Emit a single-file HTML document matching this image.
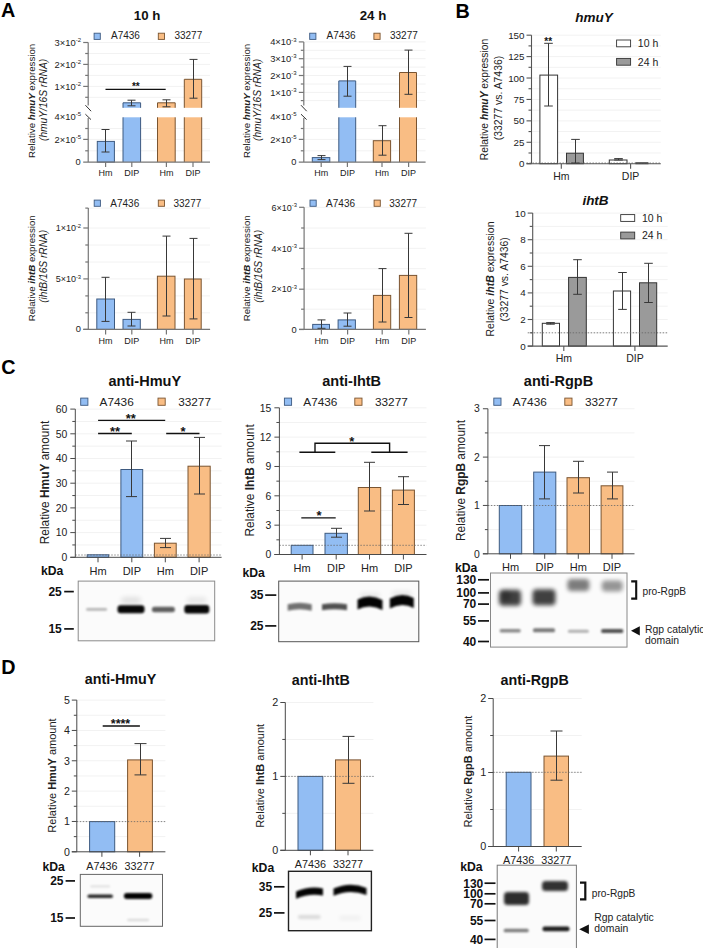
<!DOCTYPE html>
<html><head><meta charset="utf-8"><style>
html,body{margin:0;padding:0;background:#fff;}
svg{display:block;font-family:"Liberation Sans", sans-serif;}
</style></head><body>
<svg width="703" height="948" viewBox="0 0 703 948">
<defs><filter id="b9" x="-50%" y="-150%" width="200%" height="400%"><feGaussianBlur stdDeviation="0.9"/></filter><filter id="b10" x="-50%" y="-150%" width="200%" height="400%"><feGaussianBlur stdDeviation="1.0"/></filter><filter id="b11" x="-50%" y="-150%" width="200%" height="400%"><feGaussianBlur stdDeviation="1.1"/></filter><filter id="b12" x="-50%" y="-150%" width="200%" height="400%"><feGaussianBlur stdDeviation="1.2"/></filter><filter id="b16" x="-50%" y="-150%" width="200%" height="400%"><feGaussianBlur stdDeviation="1.6"/></filter><filter id="b18" x="-50%" y="-150%" width="200%" height="400%"><feGaussianBlur stdDeviation="1.8"/></filter><filter id="b20" x="-50%" y="-150%" width="200%" height="400%"><feGaussianBlur stdDeviation="2.0"/></filter><filter id="b22" x="-50%" y="-150%" width="200%" height="400%"><feGaussianBlur stdDeviation="2.2"/></filter><filter id="b25" x="-50%" y="-150%" width="200%" height="400%"><feGaussianBlur stdDeviation="2.5"/></filter></defs>
<rect width="703" height="948" fill="#fff"/>
<text x="1.00" y="16.70" font-size="19.8" text-anchor="start" font-weight="bold" font-style="normal" fill="#000" >A</text>
<text x="455.50" y="17.80" font-size="19.8" text-anchor="start" font-weight="bold" font-style="normal" fill="#000" >B</text>
<text x="1.20" y="374.00" font-size="19.8" text-anchor="start" font-weight="bold" font-style="normal" fill="#000" >C</text>
<text x="1.20" y="673.80" font-size="19.8" text-anchor="start" font-weight="bold" font-style="normal" fill="#000" >D</text>
<line x1="88.20" y1="42.50" x2="210.00" y2="42.50" stroke="#f2f2f2" stroke-width="1" />
<line x1="88.20" y1="64.40" x2="210.00" y2="64.40" stroke="#f2f2f2" stroke-width="1" />
<line x1="88.20" y1="86.40" x2="210.00" y2="86.40" stroke="#f2f2f2" stroke-width="1" />
<line x1="88.20" y1="53.50" x2="210.00" y2="53.50" stroke="#f2f2f2" stroke-width="1" />
<line x1="88.20" y1="75.40" x2="210.00" y2="75.40" stroke="#f2f2f2" stroke-width="1" />
<line x1="88.20" y1="97.30" x2="210.00" y2="97.30" stroke="#f2f2f2" stroke-width="1" />
<line x1="88.20" y1="128.50" x2="210.00" y2="128.50" stroke="#f2f2f2" stroke-width="1" />
<line x1="88.20" y1="139.40" x2="210.00" y2="139.40" stroke="#f2f2f2" stroke-width="1" />
<line x1="88.20" y1="150.80" x2="210.00" y2="150.80" stroke="#f2f2f2" stroke-width="1" />
<line x1="88.20" y1="42.50" x2="88.20" y2="105.50" stroke="#767676" stroke-width="1.2" />
<line x1="88.20" y1="118.00" x2="88.20" y2="162.10" stroke="#767676" stroke-width="1.2" />
<line x1="83.20" y1="42.50" x2="88.20" y2="42.50" stroke="#767676" stroke-width="1.2" />
<line x1="83.20" y1="64.40" x2="88.20" y2="64.40" stroke="#767676" stroke-width="1.2" />
<line x1="83.20" y1="86.40" x2="88.20" y2="86.40" stroke="#767676" stroke-width="1.2" />
<line x1="85.20" y1="53.50" x2="88.20" y2="53.50" stroke="#767676" stroke-width="1.2" />
<line x1="85.20" y1="75.40" x2="88.20" y2="75.40" stroke="#767676" stroke-width="1.2" />
<line x1="85.20" y1="97.30" x2="88.20" y2="97.30" stroke="#767676" stroke-width="1.2" />
<line x1="83.20" y1="139.40" x2="88.20" y2="139.40" stroke="#767676" stroke-width="1.2" />
<line x1="85.20" y1="128.50" x2="88.20" y2="128.50" stroke="#767676" stroke-width="1.2" />
<line x1="85.20" y1="150.80" x2="88.20" y2="150.80" stroke="#767676" stroke-width="1.2" />
<line x1="85.40" y1="105.20" x2="91.10" y2="111.20" stroke="#333" stroke-width="1.0" />
<line x1="85.40" y1="114.20" x2="91.00" y2="119.60" stroke="#333" stroke-width="1.0" />
<rect x="97.30" y="141.40" width="17.10" height="20.70" fill="#92bdf3" stroke="#3d5a80" stroke-width="1.0" />
<rect x="123.00" y="102.80" width="17.60" height="5.00" fill="#92bdf3" stroke="none" stroke-width="0" />
<rect x="123.00" y="117.30" width="17.60" height="44.80" fill="#92bdf3" stroke="none" stroke-width="0" />
<polyline points="123.00,107.8 123.00,102.80 140.60,102.80 140.60,107.8" stroke="#3d5a80" stroke-width="1" fill="none"/>
<polyline points="123.00,117.3 123.00,162.10" stroke="#3d5a80" stroke-width="1"/>
<polyline points="140.60,117.3 140.60,162.10" stroke="#3d5a80" stroke-width="1"/>
<rect x="157.50" y="102.80" width="17.70" height="5.00" fill="#f9bd84" stroke="none" stroke-width="0" />
<rect x="157.50" y="117.30" width="17.70" height="44.80" fill="#f9bd84" stroke="none" stroke-width="0" />
<polyline points="157.50,107.8 157.50,102.80 175.20,102.80 175.20,107.8" stroke="#7a5430" stroke-width="1" fill="none"/>
<polyline points="157.50,117.3 157.50,162.10" stroke="#7a5430" stroke-width="1"/>
<polyline points="175.20,117.3 175.20,162.10" stroke="#7a5430" stroke-width="1"/>
<rect x="184.30" y="79.30" width="17.40" height="28.50" fill="#f9bd84" stroke="none" stroke-width="0" />
<rect x="184.30" y="117.30" width="17.40" height="44.80" fill="#f9bd84" stroke="none" stroke-width="0" />
<polyline points="184.30,107.8 184.30,79.30 201.70,79.30 201.70,107.8" stroke="#7a5430" stroke-width="1" fill="none"/>
<polyline points="184.30,117.3 184.30,162.10" stroke="#7a5430" stroke-width="1"/>
<polyline points="201.70,117.3 201.70,162.10" stroke="#7a5430" stroke-width="1"/>
<line x1="83.20" y1="162.10" x2="210.00" y2="162.10" stroke="#767676" stroke-width="1.2" />
<line x1="105.60" y1="162.10" x2="105.60" y2="167.10" stroke="#767676" stroke-width="1.2" />
<line x1="131.80" y1="162.10" x2="131.80" y2="167.10" stroke="#767676" stroke-width="1.2" />
<line x1="166.40" y1="162.10" x2="166.40" y2="167.10" stroke="#767676" stroke-width="1.2" />
<line x1="193.00" y1="162.10" x2="193.00" y2="167.10" stroke="#767676" stroke-width="1.2" />
<line x1="105.50" y1="129.50" x2="105.50" y2="152.00" stroke="#383838" stroke-width="1.0" />
<line x1="101.50" y1="129.50" x2="109.50" y2="129.50" stroke="#383838" stroke-width="1.0" />
<line x1="101.50" y1="152.00" x2="109.50" y2="152.00" stroke="#383838" stroke-width="1.0" />
<line x1="131.50" y1="100.20" x2="131.50" y2="105.80" stroke="#383838" stroke-width="1.0" />
<line x1="127.50" y1="100.20" x2="135.50" y2="100.20" stroke="#383838" stroke-width="1.0" />
<line x1="127.50" y1="105.80" x2="135.50" y2="105.80" stroke="#383838" stroke-width="1.0" />
<line x1="166.50" y1="99.80" x2="166.50" y2="106.80" stroke="#383838" stroke-width="1.0" />
<line x1="162.50" y1="99.80" x2="170.50" y2="99.80" stroke="#383838" stroke-width="1.0" />
<line x1="162.50" y1="106.80" x2="170.50" y2="106.80" stroke="#383838" stroke-width="1.0" />
<line x1="193.50" y1="59.40" x2="193.50" y2="98.20" stroke="#383838" stroke-width="1.0" />
<line x1="189.50" y1="59.40" x2="197.50" y2="59.40" stroke="#383838" stroke-width="1.0" />
<line x1="189.50" y1="98.20" x2="197.50" y2="98.20" stroke="#383838" stroke-width="1.0" />
<text x="81.00" y="45.87" font-size="9.4" text-anchor="end" fill="#222">3×10<tspan font-size="6.0" dy="-3.6">-2</tspan></text>
<text x="81.00" y="67.77" font-size="9.4" text-anchor="end" fill="#222">2×10<tspan font-size="6.0" dy="-3.6">-2</tspan></text>
<text x="81.00" y="89.77" font-size="9.4" text-anchor="end" fill="#222">1×10<tspan font-size="6.0" dy="-3.6">-2</tspan></text>
<text x="81.00" y="119.97" font-size="9.4" text-anchor="end" fill="#222">4×10<tspan font-size="6.0" dy="-3.6">-5</tspan></text>
<text x="81.00" y="142.77" font-size="9.4" text-anchor="end" fill="#222">2×10<tspan font-size="6.0" dy="-3.6">-5</tspan></text>
<text x="80.70" y="165.13" font-size="9.3" text-anchor="end" font-weight="normal" font-style="normal" fill="#222" >0</text>
<text x="105.60" y="176.42" font-size="9" text-anchor="middle" font-weight="normal" font-style="normal" fill="#222" >Hm</text>
<text x="131.80" y="176.42" font-size="9" text-anchor="middle" font-weight="normal" font-style="normal" fill="#222" >DIP</text>
<text x="166.40" y="176.42" font-size="9" text-anchor="middle" font-weight="normal" font-style="normal" fill="#222" >Hm</text>
<text x="193.00" y="176.42" font-size="9" text-anchor="middle" font-weight="normal" font-style="normal" fill="#222" >DIP</text>
<rect x="94.10" y="33.20" width="6.20" height="6.20" fill="#92bdf3" stroke="#3d5a80" stroke-width="0.9" />
<text x="111.00" y="39.28" font-size="10" text-anchor="start" font-weight="normal" font-style="normal" fill="#222" >A7436</text>
<rect x="158.30" y="33.20" width="6.20" height="6.20" fill="#f9bd84" stroke="#7a5430" stroke-width="0.9" />
<text x="174.40" y="39.28" font-size="10" text-anchor="start" font-weight="normal" font-style="normal" fill="#222" >33277</text>
<text x="147.10" y="19.76" font-size="13.3" text-anchor="middle" font-weight="bold" font-style="normal" fill="#111" >10 h</text>
<text transform="translate(35.30,100.90) rotate(-90)" font-size="9.7" text-anchor="middle" fill="#222" >Relative <tspan font-weight="bold" font-style="italic">hmuY</tspan> expression</text>
<text transform="translate(46.80,99.90) rotate(-90)" font-size="10.2" text-anchor="middle" fill="#222" font-style="italic">(hmuY/16S rRNA)</text>
<line x1="105.50" y1="89.40" x2="165.70" y2="89.40" stroke="#111" stroke-width="1.4" />
<text x="135.80" y="89.90" font-size="10" text-anchor="middle" font-weight="bold" font-style="normal" fill="#111" >**</text>
<line x1="303.80" y1="41.90" x2="425.60" y2="41.90" stroke="#f2f2f2" stroke-width="1" />
<line x1="303.80" y1="58.70" x2="425.60" y2="58.70" stroke="#f2f2f2" stroke-width="1" />
<line x1="303.80" y1="75.50" x2="425.60" y2="75.50" stroke="#f2f2f2" stroke-width="1" />
<line x1="303.80" y1="92.40" x2="425.60" y2="92.40" stroke="#f2f2f2" stroke-width="1" />
<line x1="303.80" y1="50.30" x2="425.60" y2="50.30" stroke="#f2f2f2" stroke-width="1" />
<line x1="303.80" y1="67.10" x2="425.60" y2="67.10" stroke="#f2f2f2" stroke-width="1" />
<line x1="303.80" y1="84.00" x2="425.60" y2="84.00" stroke="#f2f2f2" stroke-width="1" />
<line x1="303.80" y1="100.60" x2="425.60" y2="100.60" stroke="#f2f2f2" stroke-width="1" />
<line x1="303.80" y1="128.50" x2="425.60" y2="128.50" stroke="#f2f2f2" stroke-width="1" />
<line x1="303.80" y1="139.40" x2="425.60" y2="139.40" stroke="#f2f2f2" stroke-width="1" />
<line x1="303.80" y1="150.80" x2="425.60" y2="150.80" stroke="#f2f2f2" stroke-width="1" />
<line x1="303.80" y1="41.90" x2="303.80" y2="105.50" stroke="#767676" stroke-width="1.2" />
<line x1="303.80" y1="118.00" x2="303.80" y2="162.10" stroke="#767676" stroke-width="1.2" />
<line x1="298.80" y1="41.90" x2="303.80" y2="41.90" stroke="#767676" stroke-width="1.2" />
<line x1="298.80" y1="58.70" x2="303.80" y2="58.70" stroke="#767676" stroke-width="1.2" />
<line x1="298.80" y1="75.50" x2="303.80" y2="75.50" stroke="#767676" stroke-width="1.2" />
<line x1="298.80" y1="92.40" x2="303.80" y2="92.40" stroke="#767676" stroke-width="1.2" />
<line x1="300.80" y1="50.30" x2="303.80" y2="50.30" stroke="#767676" stroke-width="1.2" />
<line x1="300.80" y1="67.10" x2="303.80" y2="67.10" stroke="#767676" stroke-width="1.2" />
<line x1="300.80" y1="84.00" x2="303.80" y2="84.00" stroke="#767676" stroke-width="1.2" />
<line x1="300.80" y1="100.60" x2="303.80" y2="100.60" stroke="#767676" stroke-width="1.2" />
<line x1="298.80" y1="139.40" x2="303.80" y2="139.40" stroke="#767676" stroke-width="1.2" />
<line x1="300.80" y1="128.50" x2="303.80" y2="128.50" stroke="#767676" stroke-width="1.2" />
<line x1="300.80" y1="150.80" x2="303.80" y2="150.80" stroke="#767676" stroke-width="1.2" />
<line x1="301.00" y1="105.20" x2="306.70" y2="111.20" stroke="#333" stroke-width="1.0" />
<line x1="301.00" y1="114.20" x2="306.60" y2="119.60" stroke="#333" stroke-width="1.0" />
<rect x="312.30" y="157.60" width="17.50" height="4.50" fill="#92bdf3" stroke="#3d5a80" stroke-width="1.0" />
<rect x="338.80" y="80.90" width="16.90" height="26.90" fill="#92bdf3" stroke="none" stroke-width="0" />
<rect x="338.80" y="117.30" width="16.90" height="44.80" fill="#92bdf3" stroke="none" stroke-width="0" />
<polyline points="338.80,107.8 338.80,80.90 355.70,80.90 355.70,107.8" stroke="#3d5a80" stroke-width="1" fill="none"/>
<polyline points="338.80,117.3 338.80,162.10" stroke="#3d5a80" stroke-width="1"/>
<polyline points="355.70,117.3 355.70,162.10" stroke="#3d5a80" stroke-width="1"/>
<rect x="373.30" y="140.70" width="17.30" height="21.40" fill="#f9bd84" stroke="#7a5430" stroke-width="1.0" />
<rect x="399.50" y="72.50" width="17.00" height="35.30" fill="#f9bd84" stroke="none" stroke-width="0" />
<rect x="399.50" y="117.30" width="17.00" height="44.80" fill="#f9bd84" stroke="none" stroke-width="0" />
<polyline points="399.50,107.8 399.50,72.50 416.50,72.50 416.50,107.8" stroke="#7a5430" stroke-width="1" fill="none"/>
<polyline points="399.50,117.3 399.50,162.10" stroke="#7a5430" stroke-width="1"/>
<polyline points="416.50,117.3 416.50,162.10" stroke="#7a5430" stroke-width="1"/>
<line x1="298.80" y1="162.10" x2="425.60" y2="162.10" stroke="#767676" stroke-width="1.2" />
<line x1="321.20" y1="162.10" x2="321.20" y2="167.10" stroke="#767676" stroke-width="1.2" />
<line x1="347.40" y1="162.10" x2="347.40" y2="167.10" stroke="#767676" stroke-width="1.2" />
<line x1="382.00" y1="162.10" x2="382.00" y2="167.10" stroke="#767676" stroke-width="1.2" />
<line x1="408.60" y1="162.10" x2="408.60" y2="167.10" stroke="#767676" stroke-width="1.2" />
<line x1="321.50" y1="155.60" x2="321.50" y2="159.60" stroke="#383838" stroke-width="1.0" />
<line x1="317.50" y1="155.60" x2="325.50" y2="155.60" stroke="#383838" stroke-width="1.0" />
<line x1="317.50" y1="159.60" x2="325.50" y2="159.60" stroke="#383838" stroke-width="1.0" />
<line x1="347.50" y1="66.40" x2="347.50" y2="96.20" stroke="#383838" stroke-width="1.0" />
<line x1="343.50" y1="66.40" x2="351.50" y2="66.40" stroke="#383838" stroke-width="1.0" />
<line x1="343.50" y1="96.20" x2="351.50" y2="96.20" stroke="#383838" stroke-width="1.0" />
<line x1="382.50" y1="125.70" x2="382.50" y2="155.20" stroke="#383838" stroke-width="1.0" />
<line x1="378.50" y1="125.70" x2="386.50" y2="125.70" stroke="#383838" stroke-width="1.0" />
<line x1="378.50" y1="155.20" x2="386.50" y2="155.20" stroke="#383838" stroke-width="1.0" />
<line x1="408.50" y1="50.10" x2="408.50" y2="94.30" stroke="#383838" stroke-width="1.0" />
<line x1="404.50" y1="50.10" x2="412.50" y2="50.10" stroke="#383838" stroke-width="1.0" />
<line x1="404.50" y1="94.30" x2="412.50" y2="94.30" stroke="#383838" stroke-width="1.0" />
<text x="296.60" y="45.27" font-size="9.4" text-anchor="end" fill="#222">4×10<tspan font-size="6.0" dy="-3.6">-3</tspan></text>
<text x="296.60" y="62.07" font-size="9.4" text-anchor="end" fill="#222">3×10<tspan font-size="6.0" dy="-3.6">-3</tspan></text>
<text x="296.60" y="78.87" font-size="9.4" text-anchor="end" fill="#222">2×10<tspan font-size="6.0" dy="-3.6">-3</tspan></text>
<text x="296.60" y="95.77" font-size="9.4" text-anchor="end" fill="#222">1×10<tspan font-size="6.0" dy="-3.6">-3</tspan></text>
<text x="296.60" y="119.97" font-size="9.4" text-anchor="end" fill="#222">4×10<tspan font-size="6.0" dy="-3.6">-5</tspan></text>
<text x="296.60" y="142.77" font-size="9.4" text-anchor="end" fill="#222">2×10<tspan font-size="6.0" dy="-3.6">-5</tspan></text>
<text x="296.30" y="165.13" font-size="9.3" text-anchor="end" font-weight="normal" font-style="normal" fill="#222" >0</text>
<text x="321.20" y="176.42" font-size="9" text-anchor="middle" font-weight="normal" font-style="normal" fill="#222" >Hm</text>
<text x="347.40" y="176.42" font-size="9" text-anchor="middle" font-weight="normal" font-style="normal" fill="#222" >DIP</text>
<text x="382.00" y="176.42" font-size="9" text-anchor="middle" font-weight="normal" font-style="normal" fill="#222" >Hm</text>
<text x="408.60" y="176.42" font-size="9" text-anchor="middle" font-weight="normal" font-style="normal" fill="#222" >DIP</text>
<rect x="309.70" y="33.20" width="6.20" height="6.20" fill="#92bdf3" stroke="#3d5a80" stroke-width="0.9" />
<text x="326.60" y="39.28" font-size="10" text-anchor="start" font-weight="normal" font-style="normal" fill="#222" >A7436</text>
<rect x="373.90" y="33.20" width="6.20" height="6.20" fill="#f9bd84" stroke="#7a5430" stroke-width="0.9" />
<text x="390.00" y="39.28" font-size="10" text-anchor="start" font-weight="normal" font-style="normal" fill="#222" >33277</text>
<text x="373.00" y="19.76" font-size="13.3" text-anchor="middle" font-weight="bold" font-style="normal" fill="#111" >24 h</text>
<text transform="translate(249.90,100.90) rotate(-90)" font-size="9.7" text-anchor="middle" fill="#222" >Relative <tspan font-weight="bold" font-style="italic">hmuY</tspan> expression</text>
<text transform="translate(261.40,99.90) rotate(-90)" font-size="10.2" text-anchor="middle" fill="#222" font-style="italic">(hmuY/16S rRNA)</text>
<line x1="88.30" y1="228.00" x2="210.10" y2="228.00" stroke="#f2f2f2" stroke-width="1" />
<line x1="88.30" y1="278.90" x2="210.10" y2="278.90" stroke="#f2f2f2" stroke-width="1" />
<line x1="88.30" y1="208.10" x2="210.10" y2="208.10" stroke="#f2f2f2" stroke-width="1" />
<line x1="88.30" y1="245.00" x2="210.10" y2="245.00" stroke="#f2f2f2" stroke-width="1" />
<line x1="88.30" y1="262.00" x2="210.10" y2="262.00" stroke="#f2f2f2" stroke-width="1" />
<line x1="88.30" y1="295.90" x2="210.10" y2="295.90" stroke="#f2f2f2" stroke-width="1" />
<line x1="88.30" y1="312.80" x2="210.10" y2="312.80" stroke="#f2f2f2" stroke-width="1" />
<rect x="96.80" y="299.00" width="17.70" height="30.40" fill="#92bdf3" stroke="#3d5a80" stroke-width="1.0" />
<rect x="123.00" y="319.40" width="17.30" height="10.00" fill="#92bdf3" stroke="#3d5a80" stroke-width="1.0" />
<rect x="157.40" y="276.20" width="17.60" height="53.20" fill="#f9bd84" stroke="#7a5430" stroke-width="1.0" />
<rect x="184.40" y="279.00" width="16.80" height="50.40" fill="#f9bd84" stroke="#7a5430" stroke-width="1.0" />
<line x1="88.30" y1="208.10" x2="88.30" y2="329.40" stroke="#767676" stroke-width="1.2" />
<line x1="83.30" y1="228.00" x2="88.30" y2="228.00" stroke="#767676" stroke-width="1.2" />
<line x1="83.30" y1="278.90" x2="88.30" y2="278.90" stroke="#767676" stroke-width="1.2" />
<line x1="83.30" y1="329.40" x2="88.30" y2="329.40" stroke="#767676" stroke-width="1.2" />
<line x1="85.30" y1="208.10" x2="88.30" y2="208.10" stroke="#767676" stroke-width="1.2" />
<line x1="85.30" y1="245.00" x2="88.30" y2="245.00" stroke="#767676" stroke-width="1.2" />
<line x1="85.30" y1="262.00" x2="88.30" y2="262.00" stroke="#767676" stroke-width="1.2" />
<line x1="85.30" y1="295.90" x2="88.30" y2="295.90" stroke="#767676" stroke-width="1.2" />
<line x1="85.30" y1="312.80" x2="88.30" y2="312.80" stroke="#767676" stroke-width="1.2" />
<line x1="83.30" y1="329.40" x2="210.10" y2="329.40" stroke="#767676" stroke-width="1.2" />
<line x1="105.60" y1="329.40" x2="105.60" y2="334.40" stroke="#767676" stroke-width="1.2" />
<line x1="131.80" y1="329.40" x2="131.80" y2="334.40" stroke="#767676" stroke-width="1.2" />
<line x1="166.40" y1="329.40" x2="166.40" y2="334.40" stroke="#767676" stroke-width="1.2" />
<line x1="193.00" y1="329.40" x2="193.00" y2="334.40" stroke="#767676" stroke-width="1.2" />
<line x1="105.50" y1="277.30" x2="105.50" y2="321.40" stroke="#383838" stroke-width="1.0" />
<line x1="101.50" y1="277.30" x2="109.50" y2="277.30" stroke="#383838" stroke-width="1.0" />
<line x1="101.50" y1="321.40" x2="109.50" y2="321.40" stroke="#383838" stroke-width="1.0" />
<line x1="131.50" y1="312.30" x2="131.50" y2="326.00" stroke="#383838" stroke-width="1.0" />
<line x1="127.50" y1="312.30" x2="135.50" y2="312.30" stroke="#383838" stroke-width="1.0" />
<line x1="127.50" y1="326.00" x2="135.50" y2="326.00" stroke="#383838" stroke-width="1.0" />
<line x1="166.50" y1="236.10" x2="166.50" y2="316.00" stroke="#383838" stroke-width="1.0" />
<line x1="162.50" y1="236.10" x2="170.50" y2="236.10" stroke="#383838" stroke-width="1.0" />
<line x1="162.50" y1="316.00" x2="170.50" y2="316.00" stroke="#383838" stroke-width="1.0" />
<line x1="193.50" y1="238.40" x2="193.50" y2="318.90" stroke="#383838" stroke-width="1.0" />
<line x1="189.50" y1="238.40" x2="197.50" y2="238.40" stroke="#383838" stroke-width="1.0" />
<line x1="189.50" y1="318.90" x2="197.50" y2="318.90" stroke="#383838" stroke-width="1.0" />
<text x="81.10" y="231.22" font-size="9.0" text-anchor="end" fill="#222">1×10<tspan font-size="5.8" dy="-3.6">-2</tspan></text>
<text x="81.10" y="282.12" font-size="9.0" text-anchor="end" fill="#222">5×10<tspan font-size="5.8" dy="-3.6">-3</tspan></text>
<text x="80.80" y="332.43" font-size="9.3" text-anchor="end" font-weight="normal" font-style="normal" fill="#222" >0</text>
<text x="105.60" y="344.02" font-size="9" text-anchor="middle" font-weight="normal" font-style="normal" fill="#222" >Hm</text>
<text x="131.80" y="344.02" font-size="9" text-anchor="middle" font-weight="normal" font-style="normal" fill="#222" >DIP</text>
<text x="166.40" y="344.02" font-size="9" text-anchor="middle" font-weight="normal" font-style="normal" fill="#222" >Hm</text>
<text x="193.00" y="344.02" font-size="9" text-anchor="middle" font-weight="normal" font-style="normal" fill="#222" >DIP</text>
<rect x="94.20" y="200.10" width="6.20" height="6.20" fill="#92bdf3" stroke="#3d5a80" stroke-width="0.9" />
<text x="110.30" y="206.78" font-size="10" text-anchor="start" font-weight="normal" font-style="normal" fill="#222" >A7436</text>
<rect x="158.30" y="200.10" width="6.20" height="6.20" fill="#f9bd84" stroke="#7a5430" stroke-width="0.9" />
<text x="173.50" y="206.78" font-size="10" text-anchor="start" font-weight="normal" font-style="normal" fill="#222" >33277</text>
<text transform="translate(35.30,268.30) rotate(-90)" font-size="9.7" text-anchor="middle" fill="#222" >Relative <tspan font-weight="bold" font-style="italic">ihtB</tspan> expression</text>
<text transform="translate(46.80,266.30) rotate(-90)" font-size="10.2" text-anchor="middle" fill="#222" font-style="italic">(ihtB/16S rRNA)</text>
<line x1="304.10" y1="207.30" x2="425.90" y2="207.30" stroke="#f2f2f2" stroke-width="1" />
<line x1="304.10" y1="248.30" x2="425.90" y2="248.30" stroke="#f2f2f2" stroke-width="1" />
<line x1="304.10" y1="289.20" x2="425.90" y2="289.20" stroke="#f2f2f2" stroke-width="1" />
<line x1="304.10" y1="228.00" x2="425.90" y2="228.00" stroke="#f2f2f2" stroke-width="1" />
<line x1="304.10" y1="268.70" x2="425.90" y2="268.70" stroke="#f2f2f2" stroke-width="1" />
<line x1="304.10" y1="309.20" x2="425.90" y2="309.20" stroke="#f2f2f2" stroke-width="1" />
<rect x="312.70" y="324.40" width="16.80" height="5.00" fill="#92bdf3" stroke="#3d5a80" stroke-width="1.0" />
<rect x="338.10" y="319.90" width="17.30" height="9.50" fill="#92bdf3" stroke="#3d5a80" stroke-width="1.0" />
<rect x="373.40" y="295.40" width="17.30" height="34.00" fill="#f9bd84" stroke="#7a5430" stroke-width="1.0" />
<rect x="399.40" y="275.40" width="17.30" height="54.00" fill="#f9bd84" stroke="#7a5430" stroke-width="1.0" />
<line x1="304.10" y1="207.30" x2="304.10" y2="329.40" stroke="#767676" stroke-width="1.2" />
<line x1="299.10" y1="207.30" x2="304.10" y2="207.30" stroke="#767676" stroke-width="1.2" />
<line x1="299.10" y1="248.30" x2="304.10" y2="248.30" stroke="#767676" stroke-width="1.2" />
<line x1="299.10" y1="289.20" x2="304.10" y2="289.20" stroke="#767676" stroke-width="1.2" />
<line x1="299.10" y1="329.50" x2="304.10" y2="329.50" stroke="#767676" stroke-width="1.2" />
<line x1="301.10" y1="228.00" x2="304.10" y2="228.00" stroke="#767676" stroke-width="1.2" />
<line x1="301.10" y1="268.70" x2="304.10" y2="268.70" stroke="#767676" stroke-width="1.2" />
<line x1="301.10" y1="309.20" x2="304.10" y2="309.20" stroke="#767676" stroke-width="1.2" />
<line x1="299.10" y1="329.40" x2="425.90" y2="329.40" stroke="#767676" stroke-width="1.2" />
<line x1="321.40" y1="329.40" x2="321.40" y2="334.40" stroke="#767676" stroke-width="1.2" />
<line x1="347.60" y1="329.40" x2="347.60" y2="334.40" stroke="#767676" stroke-width="1.2" />
<line x1="382.20" y1="329.40" x2="382.20" y2="334.40" stroke="#767676" stroke-width="1.2" />
<line x1="408.80" y1="329.40" x2="408.80" y2="334.40" stroke="#767676" stroke-width="1.2" />
<line x1="321.50" y1="319.90" x2="321.50" y2="328.30" stroke="#383838" stroke-width="1.0" />
<line x1="317.50" y1="319.90" x2="325.50" y2="319.90" stroke="#383838" stroke-width="1.0" />
<line x1="317.50" y1="328.30" x2="325.50" y2="328.30" stroke="#383838" stroke-width="1.0" />
<line x1="347.50" y1="313.00" x2="347.50" y2="326.20" stroke="#383838" stroke-width="1.0" />
<line x1="343.50" y1="313.00" x2="351.50" y2="313.00" stroke="#383838" stroke-width="1.0" />
<line x1="343.50" y1="326.20" x2="351.50" y2="326.20" stroke="#383838" stroke-width="1.0" />
<line x1="382.50" y1="268.60" x2="382.50" y2="322.00" stroke="#383838" stroke-width="1.0" />
<line x1="378.50" y1="268.60" x2="386.50" y2="268.60" stroke="#383838" stroke-width="1.0" />
<line x1="378.50" y1="322.00" x2="386.50" y2="322.00" stroke="#383838" stroke-width="1.0" />
<line x1="408.50" y1="233.30" x2="408.50" y2="317.50" stroke="#383838" stroke-width="1.0" />
<line x1="404.50" y1="233.30" x2="412.50" y2="233.30" stroke="#383838" stroke-width="1.0" />
<line x1="404.50" y1="317.50" x2="412.50" y2="317.50" stroke="#383838" stroke-width="1.0" />
<text x="296.90" y="210.52" font-size="9.0" text-anchor="end" fill="#222">6×10<tspan font-size="5.8" dy="-3.6">-3</tspan></text>
<text x="296.90" y="251.52" font-size="9.0" text-anchor="end" fill="#222">4×10<tspan font-size="5.8" dy="-3.6">-3</tspan></text>
<text x="296.90" y="292.42" font-size="9.0" text-anchor="end" fill="#222">2×10<tspan font-size="5.8" dy="-3.6">-3</tspan></text>
<text x="296.60" y="332.53" font-size="9.3" text-anchor="end" font-weight="normal" font-style="normal" fill="#222" >0</text>
<text x="321.40" y="344.02" font-size="9" text-anchor="middle" font-weight="normal" font-style="normal" fill="#222" >Hm</text>
<text x="347.60" y="344.02" font-size="9" text-anchor="middle" font-weight="normal" font-style="normal" fill="#222" >DIP</text>
<text x="382.20" y="344.02" font-size="9" text-anchor="middle" font-weight="normal" font-style="normal" fill="#222" >Hm</text>
<text x="408.80" y="344.02" font-size="9" text-anchor="middle" font-weight="normal" font-style="normal" fill="#222" >DIP</text>
<rect x="310.00" y="200.10" width="6.20" height="6.20" fill="#92bdf3" stroke="#3d5a80" stroke-width="0.9" />
<text x="326.10" y="206.78" font-size="10" text-anchor="start" font-weight="normal" font-style="normal" fill="#222" >A7436</text>
<rect x="374.10" y="200.10" width="6.20" height="6.20" fill="#f9bd84" stroke="#7a5430" stroke-width="0.9" />
<text x="389.30" y="206.78" font-size="10" text-anchor="start" font-weight="normal" font-style="normal" fill="#222" >33277</text>
<text transform="translate(250.10,268.30) rotate(-90)" font-size="9.7" text-anchor="middle" fill="#222" >Relative <tspan font-weight="bold" font-style="italic">ihtB</tspan> expression</text>
<text transform="translate(261.60,266.30) rotate(-90)" font-size="10.2" text-anchor="middle" fill="#222" font-style="italic">(ihtB/16S rRNA)</text>
<line x1="531.50" y1="142.28" x2="660.80" y2="142.28" stroke="#f2f2f2" stroke-width="1" />
<line x1="531.50" y1="120.86" x2="660.80" y2="120.86" stroke="#f2f2f2" stroke-width="1" />
<line x1="531.50" y1="99.44" x2="660.80" y2="99.44" stroke="#f2f2f2" stroke-width="1" />
<line x1="531.50" y1="78.02" x2="660.80" y2="78.02" stroke="#f2f2f2" stroke-width="1" />
<line x1="531.50" y1="56.60" x2="660.80" y2="56.60" stroke="#f2f2f2" stroke-width="1" />
<line x1="531.50" y1="35.18" x2="660.80" y2="35.18" stroke="#f2f2f2" stroke-width="1" />
<line x1="531.50" y1="152.99" x2="660.80" y2="152.99" stroke="#f2f2f2" stroke-width="1" />
<line x1="531.50" y1="131.57" x2="660.80" y2="131.57" stroke="#f2f2f2" stroke-width="1" />
<line x1="531.50" y1="110.15" x2="660.80" y2="110.15" stroke="#f2f2f2" stroke-width="1" />
<line x1="531.50" y1="88.73" x2="660.80" y2="88.73" stroke="#f2f2f2" stroke-width="1" />
<line x1="531.50" y1="67.31" x2="660.80" y2="67.31" stroke="#f2f2f2" stroke-width="1" />
<line x1="531.50" y1="45.89" x2="660.80" y2="45.89" stroke="#f2f2f2" stroke-width="1" />
<rect x="539.90" y="75.10" width="17.70" height="88.60" fill="#ffffff" stroke="#333333" stroke-width="1.0" />
<rect x="566.50" y="153.20" width="16.90" height="10.50" fill="#9a9a9a" stroke="#333333" stroke-width="1.0" />
<rect x="609.30" y="160.00" width="17.70" height="3.70" fill="#ffffff" stroke="#333333" stroke-width="1.0" />
<rect x="635.90" y="162.80" width="12.10" height="0.90" fill="#9a9a9a" stroke="#333333" stroke-width="1.0" />
<line x1="526.50" y1="163.00" x2="660.80" y2="163.00" stroke="#666" stroke-width="0.8" stroke-dasharray="1.4 1.6"/>
<line x1="531.50" y1="35.18" x2="531.50" y2="163.70" stroke="#555555" stroke-width="1.1" />
<line x1="526.50" y1="163.70" x2="531.50" y2="163.70" stroke="#555555" stroke-width="1.1" />
<line x1="526.50" y1="142.28" x2="531.50" y2="142.28" stroke="#555555" stroke-width="1.1" />
<line x1="526.50" y1="120.86" x2="531.50" y2="120.86" stroke="#555555" stroke-width="1.1" />
<line x1="526.50" y1="99.44" x2="531.50" y2="99.44" stroke="#555555" stroke-width="1.1" />
<line x1="526.50" y1="78.02" x2="531.50" y2="78.02" stroke="#555555" stroke-width="1.1" />
<line x1="526.50" y1="56.60" x2="531.50" y2="56.60" stroke="#555555" stroke-width="1.1" />
<line x1="526.50" y1="35.18" x2="531.50" y2="35.18" stroke="#555555" stroke-width="1.1" />
<line x1="528.50" y1="152.99" x2="531.50" y2="152.99" stroke="#555555" stroke-width="1.1" />
<line x1="528.50" y1="131.57" x2="531.50" y2="131.57" stroke="#555555" stroke-width="1.1" />
<line x1="528.50" y1="110.15" x2="531.50" y2="110.15" stroke="#555555" stroke-width="1.1" />
<line x1="528.50" y1="88.73" x2="531.50" y2="88.73" stroke="#555555" stroke-width="1.1" />
<line x1="528.50" y1="67.31" x2="531.50" y2="67.31" stroke="#555555" stroke-width="1.1" />
<line x1="528.50" y1="45.89" x2="531.50" y2="45.89" stroke="#555555" stroke-width="1.1" />
<line x1="526.50" y1="163.70" x2="660.80" y2="163.70" stroke="#555555" stroke-width="1.1" />
<line x1="561.30" y1="163.70" x2="561.30" y2="168.70" stroke="#555555" stroke-width="1.1" />
<line x1="630.60" y1="163.70" x2="630.60" y2="168.70" stroke="#555555" stroke-width="1.1" />
<line x1="548.50" y1="43.30" x2="548.50" y2="106.00" stroke="#383838" stroke-width="1.0" />
<line x1="544.20" y1="43.30" x2="552.80" y2="43.30" stroke="#383838" stroke-width="1.0" />
<line x1="544.20" y1="106.00" x2="552.80" y2="106.00" stroke="#383838" stroke-width="1.0" />
<line x1="575.50" y1="139.40" x2="575.50" y2="163.00" stroke="#383838" stroke-width="1.0" />
<line x1="571.20" y1="139.40" x2="579.80" y2="139.40" stroke="#383838" stroke-width="1.0" />
<line x1="571.20" y1="163.00" x2="579.80" y2="163.00" stroke="#383838" stroke-width="1.0" />
<line x1="618.50" y1="158.60" x2="618.50" y2="160.00" stroke="#383838" stroke-width="1.0" />
<line x1="614.20" y1="158.60" x2="622.80" y2="158.60" stroke="#383838" stroke-width="1.0" />
<line x1="614.20" y1="160.00" x2="622.80" y2="160.00" stroke="#383838" stroke-width="1.0" />
<text x="524.50" y="167.21" font-size="9.8" text-anchor="end" font-weight="normal" font-style="normal" fill="#222" >0</text>
<text x="524.50" y="145.79" font-size="9.8" text-anchor="end" font-weight="normal" font-style="normal" fill="#222" >25</text>
<text x="524.50" y="124.37" font-size="9.8" text-anchor="end" font-weight="normal" font-style="normal" fill="#222" >50</text>
<text x="524.50" y="102.95" font-size="9.8" text-anchor="end" font-weight="normal" font-style="normal" fill="#222" >75</text>
<text x="524.50" y="81.53" font-size="9.8" text-anchor="end" font-weight="normal" font-style="normal" fill="#222" >100</text>
<text x="524.50" y="60.11" font-size="9.8" text-anchor="end" font-weight="normal" font-style="normal" fill="#222" >125</text>
<text x="524.50" y="38.69" font-size="9.8" text-anchor="end" font-weight="normal" font-style="normal" fill="#222" >150</text>
<text x="561.30" y="179.56" font-size="10.5" text-anchor="middle" font-weight="normal" font-style="normal" fill="#222" >Hm</text>
<text x="630.60" y="179.56" font-size="10.5" text-anchor="middle" font-weight="normal" font-style="normal" fill="#222" >DIP</text>
<text x="548.20" y="45.10" font-size="10" text-anchor="middle" font-weight="bold" font-style="normal" fill="#111" >**</text>
<rect x="616.60" y="40.00" width="14.00" height="6.80" fill="#ffffff" stroke="#333333" stroke-width="0.9" />
<text x="637.80" y="47.16" font-size="10.5" text-anchor="start" font-weight="normal" font-style="normal" fill="#222" >10 h</text>
<rect x="616.60" y="58.40" width="14.00" height="6.80" fill="#9a9a9a" stroke="#333333" stroke-width="0.9" />
<text x="637.80" y="65.56" font-size="10.5" text-anchor="start" font-weight="normal" font-style="normal" fill="#222" >24 h</text>
<text x="594.00" y="21.63" font-size="13.5" text-anchor="middle" font-weight="bold" font-style="italic" fill="#111" >hmuY</text>
<text transform="translate(488.30,99.50) rotate(-90)" font-size="10.3" text-anchor="middle" fill="#222" >Relative <tspan font-weight="bold" font-style="italic">hmuY</tspan> expression</text>
<text transform="translate(502.30,98.00) rotate(-90)" font-size="10.4" text-anchor="middle" fill="#222" >(33277 vs. A7436)</text>
<line x1="532.70" y1="319.50" x2="667.70" y2="319.50" stroke="#f2f2f2" stroke-width="1" />
<line x1="532.70" y1="292.90" x2="667.70" y2="292.90" stroke="#f2f2f2" stroke-width="1" />
<line x1="532.70" y1="266.30" x2="667.70" y2="266.30" stroke="#f2f2f2" stroke-width="1" />
<line x1="532.70" y1="239.70" x2="667.70" y2="239.70" stroke="#f2f2f2" stroke-width="1" />
<line x1="532.70" y1="213.10" x2="667.70" y2="213.10" stroke="#f2f2f2" stroke-width="1" />
<line x1="532.70" y1="332.80" x2="667.70" y2="332.80" stroke="#f2f2f2" stroke-width="1" />
<line x1="532.70" y1="306.20" x2="667.70" y2="306.20" stroke="#f2f2f2" stroke-width="1" />
<line x1="532.70" y1="279.60" x2="667.70" y2="279.60" stroke="#f2f2f2" stroke-width="1" />
<line x1="532.70" y1="253.00" x2="667.70" y2="253.00" stroke="#f2f2f2" stroke-width="1" />
<line x1="532.70" y1="226.40" x2="667.70" y2="226.40" stroke="#f2f2f2" stroke-width="1" />
<rect x="542.30" y="323.30" width="17.20" height="22.80" fill="#ffffff" stroke="#333333" stroke-width="1.0" />
<rect x="568.60" y="277.40" width="17.70" height="68.70" fill="#9a9a9a" stroke="#333333" stroke-width="1.0" />
<rect x="613.40" y="291.00" width="17.20" height="55.10" fill="#ffffff" stroke="#333333" stroke-width="1.0" />
<rect x="639.50" y="282.80" width="17.20" height="63.30" fill="#9a9a9a" stroke="#333333" stroke-width="1.0" />
<line x1="527.70" y1="332.80" x2="667.70" y2="332.80" stroke="#666" stroke-width="0.8" stroke-dasharray="1.4 1.6"/>
<line x1="532.70" y1="213.10" x2="532.70" y2="346.10" stroke="#555555" stroke-width="1.1" />
<line x1="527.70" y1="346.10" x2="532.70" y2="346.10" stroke="#555555" stroke-width="1.1" />
<line x1="527.70" y1="319.50" x2="532.70" y2="319.50" stroke="#555555" stroke-width="1.1" />
<line x1="527.70" y1="292.90" x2="532.70" y2="292.90" stroke="#555555" stroke-width="1.1" />
<line x1="527.70" y1="266.30" x2="532.70" y2="266.30" stroke="#555555" stroke-width="1.1" />
<line x1="527.70" y1="239.70" x2="532.70" y2="239.70" stroke="#555555" stroke-width="1.1" />
<line x1="527.70" y1="213.10" x2="532.70" y2="213.10" stroke="#555555" stroke-width="1.1" />
<line x1="529.70" y1="332.80" x2="532.70" y2="332.80" stroke="#555555" stroke-width="1.1" />
<line x1="529.70" y1="306.20" x2="532.70" y2="306.20" stroke="#555555" stroke-width="1.1" />
<line x1="529.70" y1="279.60" x2="532.70" y2="279.60" stroke="#555555" stroke-width="1.1" />
<line x1="529.70" y1="253.00" x2="532.70" y2="253.00" stroke="#555555" stroke-width="1.1" />
<line x1="529.70" y1="226.40" x2="532.70" y2="226.40" stroke="#555555" stroke-width="1.1" />
<line x1="527.70" y1="346.10" x2="667.70" y2="346.10" stroke="#555555" stroke-width="1.1" />
<line x1="563.80" y1="346.10" x2="563.80" y2="351.10" stroke="#555555" stroke-width="1.1" />
<line x1="634.90" y1="346.10" x2="634.90" y2="351.10" stroke="#555555" stroke-width="1.1" />
<line x1="550.50" y1="322.60" x2="550.50" y2="324.20" stroke="#383838" stroke-width="1.0" />
<line x1="546.20" y1="322.60" x2="554.80" y2="322.60" stroke="#383838" stroke-width="1.0" />
<line x1="546.20" y1="324.20" x2="554.80" y2="324.20" stroke="#383838" stroke-width="1.0" />
<line x1="577.50" y1="259.70" x2="577.50" y2="294.30" stroke="#383838" stroke-width="1.0" />
<line x1="573.20" y1="259.70" x2="581.80" y2="259.70" stroke="#383838" stroke-width="1.0" />
<line x1="573.20" y1="294.30" x2="581.80" y2="294.30" stroke="#383838" stroke-width="1.0" />
<line x1="622.50" y1="272.50" x2="622.50" y2="309.40" stroke="#383838" stroke-width="1.0" />
<line x1="618.20" y1="272.50" x2="626.80" y2="272.50" stroke="#383838" stroke-width="1.0" />
<line x1="618.20" y1="309.40" x2="626.80" y2="309.40" stroke="#383838" stroke-width="1.0" />
<line x1="648.50" y1="263.30" x2="648.50" y2="302.50" stroke="#383838" stroke-width="1.0" />
<line x1="644.20" y1="263.30" x2="652.80" y2="263.30" stroke="#383838" stroke-width="1.0" />
<line x1="644.20" y1="302.50" x2="652.80" y2="302.50" stroke="#383838" stroke-width="1.0" />
<text x="525.70" y="349.61" font-size="9.8" text-anchor="end" font-weight="normal" font-style="normal" fill="#222" >0</text>
<text x="525.70" y="323.01" font-size="9.8" text-anchor="end" font-weight="normal" font-style="normal" fill="#222" >2</text>
<text x="525.70" y="296.41" font-size="9.8" text-anchor="end" font-weight="normal" font-style="normal" fill="#222" >4</text>
<text x="525.70" y="269.81" font-size="9.8" text-anchor="end" font-weight="normal" font-style="normal" fill="#222" >6</text>
<text x="525.70" y="243.21" font-size="9.8" text-anchor="end" font-weight="normal" font-style="normal" fill="#222" >8</text>
<text x="525.70" y="216.61" font-size="9.8" text-anchor="end" font-weight="normal" font-style="normal" fill="#222" >10</text>
<text x="563.80" y="361.56" font-size="10.5" text-anchor="middle" font-weight="normal" font-style="normal" fill="#222" >Hm</text>
<text x="634.90" y="361.56" font-size="10.5" text-anchor="middle" font-weight="normal" font-style="normal" fill="#222" >DIP</text>
<rect x="620.70" y="214.60" width="14.00" height="6.80" fill="#ffffff" stroke="#333333" stroke-width="0.9" />
<text x="641.90" y="221.76" font-size="10.5" text-anchor="start" font-weight="normal" font-style="normal" fill="#222" >10 h</text>
<rect x="620.70" y="232.10" width="14.00" height="6.80" fill="#9a9a9a" stroke="#333333" stroke-width="0.9" />
<text x="641.90" y="239.26" font-size="10.5" text-anchor="start" font-weight="normal" font-style="normal" fill="#222" >24 h</text>
<text x="595.50" y="204.83" font-size="13.5" text-anchor="middle" font-weight="bold" font-style="italic" fill="#111" >ihtB</text>
<text transform="translate(494.00,279.00) rotate(-90)" font-size="10.5" text-anchor="middle" fill="#222" >Relative <tspan font-weight="bold" font-style="italic">ihtB</tspan> expression</text>
<text transform="translate(508.00,279.40) rotate(-90)" font-size="10.4" text-anchor="middle" fill="#222" >(33277 vs. A7436)</text>
<line x1="75.30" y1="532.60" x2="221.60" y2="532.60" stroke="#f2f2f2" stroke-width="1" />
<line x1="75.30" y1="507.90" x2="221.60" y2="507.90" stroke="#f2f2f2" stroke-width="1" />
<line x1="75.30" y1="483.20" x2="221.60" y2="483.20" stroke="#f2f2f2" stroke-width="1" />
<line x1="75.30" y1="458.50" x2="221.60" y2="458.50" stroke="#f2f2f2" stroke-width="1" />
<line x1="75.30" y1="433.80" x2="221.60" y2="433.80" stroke="#f2f2f2" stroke-width="1" />
<line x1="75.30" y1="409.10" x2="221.60" y2="409.10" stroke="#f2f2f2" stroke-width="1" />
<line x1="75.30" y1="544.95" x2="221.60" y2="544.95" stroke="#f2f2f2" stroke-width="1" />
<line x1="75.30" y1="520.25" x2="221.60" y2="520.25" stroke="#f2f2f2" stroke-width="1" />
<line x1="75.30" y1="495.55" x2="221.60" y2="495.55" stroke="#f2f2f2" stroke-width="1" />
<line x1="75.30" y1="470.85" x2="221.60" y2="470.85" stroke="#f2f2f2" stroke-width="1" />
<line x1="75.30" y1="446.15" x2="221.60" y2="446.15" stroke="#f2f2f2" stroke-width="1" />
<line x1="75.30" y1="421.45" x2="221.60" y2="421.45" stroke="#f2f2f2" stroke-width="1" />
<rect x="87.20" y="554.80" width="21.50" height="2.50" fill="#92bdf3" stroke="#3d5a80" stroke-width="1.0" />
<rect x="120.90" y="469.50" width="21.80" height="87.80" fill="#92bdf3" stroke="#3d5a80" stroke-width="1.0" />
<rect x="154.40" y="543.20" width="21.80" height="14.10" fill="#f9bd84" stroke="#7a5430" stroke-width="1.0" />
<rect x="188.00" y="466.20" width="22.20" height="91.10" fill="#f9bd84" stroke="#7a5430" stroke-width="1.0" />
<line x1="75.30" y1="555.00" x2="221.60" y2="555.00" stroke="#666" stroke-width="0.8" stroke-dasharray="1.4 1.6"/>
<line x1="75.30" y1="409.10" x2="75.30" y2="557.30" stroke="#4a4a4a" stroke-width="1.0" />
<line x1="70.30" y1="557.30" x2="75.30" y2="557.30" stroke="#4a4a4a" stroke-width="1.0" />
<line x1="70.30" y1="532.60" x2="75.30" y2="532.60" stroke="#4a4a4a" stroke-width="1.0" />
<line x1="70.30" y1="507.90" x2="75.30" y2="507.90" stroke="#4a4a4a" stroke-width="1.0" />
<line x1="70.30" y1="483.20" x2="75.30" y2="483.20" stroke="#4a4a4a" stroke-width="1.0" />
<line x1="70.30" y1="458.50" x2="75.30" y2="458.50" stroke="#4a4a4a" stroke-width="1.0" />
<line x1="70.30" y1="433.80" x2="75.30" y2="433.80" stroke="#4a4a4a" stroke-width="1.0" />
<line x1="70.30" y1="409.10" x2="75.30" y2="409.10" stroke="#4a4a4a" stroke-width="1.0" />
<line x1="72.30" y1="544.95" x2="75.30" y2="544.95" stroke="#4a4a4a" stroke-width="1.0" />
<line x1="72.30" y1="520.25" x2="75.30" y2="520.25" stroke="#4a4a4a" stroke-width="1.0" />
<line x1="72.30" y1="495.55" x2="75.30" y2="495.55" stroke="#4a4a4a" stroke-width="1.0" />
<line x1="72.30" y1="470.85" x2="75.30" y2="470.85" stroke="#4a4a4a" stroke-width="1.0" />
<line x1="72.30" y1="446.15" x2="75.30" y2="446.15" stroke="#4a4a4a" stroke-width="1.0" />
<line x1="72.30" y1="421.45" x2="75.30" y2="421.45" stroke="#4a4a4a" stroke-width="1.0" />
<line x1="70.30" y1="557.30" x2="221.60" y2="557.30" stroke="#4a4a4a" stroke-width="1.0" />
<line x1="98.00" y1="557.30" x2="98.00" y2="562.30" stroke="#4a4a4a" stroke-width="1.0" />
<line x1="131.80" y1="557.30" x2="131.80" y2="562.30" stroke="#4a4a4a" stroke-width="1.0" />
<line x1="165.30" y1="557.30" x2="165.30" y2="562.30" stroke="#4a4a4a" stroke-width="1.0" />
<line x1="199.10" y1="557.30" x2="199.10" y2="562.30" stroke="#4a4a4a" stroke-width="1.0" />
<line x1="131.50" y1="441.00" x2="131.50" y2="496.60" stroke="#383838" stroke-width="1.0" />
<line x1="126.00" y1="441.00" x2="137.00" y2="441.00" stroke="#383838" stroke-width="1.0" />
<line x1="126.00" y1="496.60" x2="137.00" y2="496.60" stroke="#383838" stroke-width="1.0" />
<line x1="165.50" y1="538.40" x2="165.50" y2="547.60" stroke="#383838" stroke-width="1.0" />
<line x1="160.00" y1="538.40" x2="171.00" y2="538.40" stroke="#383838" stroke-width="1.0" />
<line x1="160.00" y1="547.60" x2="171.00" y2="547.60" stroke="#383838" stroke-width="1.0" />
<line x1="199.50" y1="437.40" x2="199.50" y2="494.00" stroke="#383838" stroke-width="1.0" />
<line x1="194.00" y1="437.40" x2="205.00" y2="437.40" stroke="#383838" stroke-width="1.0" />
<line x1="194.00" y1="494.00" x2="205.00" y2="494.00" stroke="#383838" stroke-width="1.0" />
<text x="67.30" y="561.02" font-size="10.4" text-anchor="end" font-weight="normal" font-style="normal" fill="#222" >0</text>
<text x="67.30" y="536.32" font-size="10.4" text-anchor="end" font-weight="normal" font-style="normal" fill="#222" >10</text>
<text x="67.30" y="511.62" font-size="10.4" text-anchor="end" font-weight="normal" font-style="normal" fill="#222" >20</text>
<text x="67.30" y="486.92" font-size="10.4" text-anchor="end" font-weight="normal" font-style="normal" fill="#222" >30</text>
<text x="67.30" y="462.22" font-size="10.4" text-anchor="end" font-weight="normal" font-style="normal" fill="#222" >40</text>
<text x="67.30" y="437.52" font-size="10.4" text-anchor="end" font-weight="normal" font-style="normal" fill="#222" >50</text>
<text x="67.30" y="412.82" font-size="10.4" text-anchor="end" font-weight="normal" font-style="normal" fill="#222" >60</text>
<text x="98.00" y="575.14" font-size="11" text-anchor="middle" font-weight="normal" font-style="normal" fill="#222" >Hm</text>
<text x="131.80" y="575.14" font-size="11" text-anchor="middle" font-weight="normal" font-style="normal" fill="#222" >DIP</text>
<text x="165.30" y="575.14" font-size="11" text-anchor="middle" font-weight="normal" font-style="normal" fill="#222" >Hm</text>
<text x="199.10" y="575.14" font-size="11" text-anchor="middle" font-weight="normal" font-style="normal" fill="#222" >DIP</text>
<line x1="98.10" y1="420.40" x2="165.20" y2="420.40" stroke="#111" stroke-width="1.4" />
<text x="130.80" y="422.78" font-size="13" text-anchor="middle" font-weight="bold" font-style="normal" fill="#111" >**</text>
<line x1="98.10" y1="433.50" x2="131.80" y2="433.50" stroke="#111" stroke-width="1.4" />
<text x="115.00" y="436.08" font-size="13" text-anchor="middle" font-weight="bold" font-style="normal" fill="#111" >**</text>
<line x1="166.20" y1="433.50" x2="199.50" y2="433.50" stroke="#111" stroke-width="1.4" />
<text x="183.00" y="436.08" font-size="13" text-anchor="middle" font-weight="bold" font-style="normal" fill="#111" >*</text>
<rect x="80.70" y="398.10" width="7.20" height="7.20" fill="#92bdf3" stroke="#3d5a80" stroke-width="0.9" />
<text x="99.60" y="405.92" font-size="11.8" text-anchor="start" font-weight="normal" font-style="normal" fill="#222" >A7436</text>
<rect x="158.00" y="398.10" width="7.20" height="7.20" fill="#f9bd84" stroke="#7a5430" stroke-width="0.9" />
<text x="178.20" y="405.92" font-size="11.8" text-anchor="start" font-weight="normal" font-style="normal" fill="#222" >33277</text>
<text x="144.80" y="386.39" font-size="14.5" text-anchor="middle" font-weight="bold" font-style="normal" fill="#111" >anti-HmuY</text>
<text transform="translate(49.20,482.50) rotate(-90)" font-size="11.9" text-anchor="middle" fill="#222" >Relative <tspan font-weight="bold">HmuY</tspan> amount</text>
<line x1="279.40" y1="525.16" x2="426.50" y2="525.16" stroke="#f2f2f2" stroke-width="1" />
<line x1="279.40" y1="495.82" x2="426.50" y2="495.82" stroke="#f2f2f2" stroke-width="1" />
<line x1="279.40" y1="466.48" x2="426.50" y2="466.48" stroke="#f2f2f2" stroke-width="1" />
<line x1="279.40" y1="437.14" x2="426.50" y2="437.14" stroke="#f2f2f2" stroke-width="1" />
<line x1="279.40" y1="407.80" x2="426.50" y2="407.80" stroke="#f2f2f2" stroke-width="1" />
<line x1="279.40" y1="539.83" x2="426.50" y2="539.83" stroke="#f2f2f2" stroke-width="1" />
<line x1="279.40" y1="510.49" x2="426.50" y2="510.49" stroke="#f2f2f2" stroke-width="1" />
<line x1="279.40" y1="481.15" x2="426.50" y2="481.15" stroke="#f2f2f2" stroke-width="1" />
<line x1="279.40" y1="451.81" x2="426.50" y2="451.81" stroke="#f2f2f2" stroke-width="1" />
<line x1="279.40" y1="422.47" x2="426.50" y2="422.47" stroke="#f2f2f2" stroke-width="1" />
<rect x="291.20" y="545.30" width="21.80" height="9.20" fill="#92bdf3" stroke="#3d5a80" stroke-width="1.0" />
<rect x="325.00" y="533.30" width="22.40" height="21.20" fill="#92bdf3" stroke="#3d5a80" stroke-width="1.0" />
<rect x="358.30" y="487.50" width="22.40" height="67.00" fill="#f9bd84" stroke="#7a5430" stroke-width="1.0" />
<rect x="392.40" y="490.10" width="22.00" height="64.40" fill="#f9bd84" stroke="#7a5430" stroke-width="1.0" />
<line x1="279.40" y1="545.30" x2="426.50" y2="545.30" stroke="#666" stroke-width="0.8" stroke-dasharray="1.4 1.6"/>
<line x1="279.40" y1="407.80" x2="279.40" y2="554.50" stroke="#4a4a4a" stroke-width="1.0" />
<line x1="274.40" y1="554.50" x2="279.40" y2="554.50" stroke="#4a4a4a" stroke-width="1.0" />
<line x1="274.40" y1="525.16" x2="279.40" y2="525.16" stroke="#4a4a4a" stroke-width="1.0" />
<line x1="274.40" y1="495.82" x2="279.40" y2="495.82" stroke="#4a4a4a" stroke-width="1.0" />
<line x1="274.40" y1="466.48" x2="279.40" y2="466.48" stroke="#4a4a4a" stroke-width="1.0" />
<line x1="274.40" y1="437.14" x2="279.40" y2="437.14" stroke="#4a4a4a" stroke-width="1.0" />
<line x1="274.40" y1="407.80" x2="279.40" y2="407.80" stroke="#4a4a4a" stroke-width="1.0" />
<line x1="276.40" y1="539.83" x2="279.40" y2="539.83" stroke="#4a4a4a" stroke-width="1.0" />
<line x1="276.40" y1="510.49" x2="279.40" y2="510.49" stroke="#4a4a4a" stroke-width="1.0" />
<line x1="276.40" y1="481.15" x2="279.40" y2="481.15" stroke="#4a4a4a" stroke-width="1.0" />
<line x1="276.40" y1="451.81" x2="279.40" y2="451.81" stroke="#4a4a4a" stroke-width="1.0" />
<line x1="276.40" y1="422.47" x2="279.40" y2="422.47" stroke="#4a4a4a" stroke-width="1.0" />
<line x1="274.40" y1="554.50" x2="426.50" y2="554.50" stroke="#4a4a4a" stroke-width="1.0" />
<line x1="302.10" y1="554.50" x2="302.10" y2="559.50" stroke="#4a4a4a" stroke-width="1.0" />
<line x1="336.20" y1="554.50" x2="336.20" y2="559.50" stroke="#4a4a4a" stroke-width="1.0" />
<line x1="369.50" y1="554.50" x2="369.50" y2="559.50" stroke="#4a4a4a" stroke-width="1.0" />
<line x1="403.40" y1="554.50" x2="403.40" y2="559.50" stroke="#4a4a4a" stroke-width="1.0" />
<line x1="336.50" y1="528.30" x2="336.50" y2="537.20" stroke="#383838" stroke-width="1.0" />
<line x1="331.00" y1="528.30" x2="342.00" y2="528.30" stroke="#383838" stroke-width="1.0" />
<line x1="331.00" y1="537.20" x2="342.00" y2="537.20" stroke="#383838" stroke-width="1.0" />
<line x1="369.50" y1="462.30" x2="369.50" y2="511.00" stroke="#383838" stroke-width="1.0" />
<line x1="364.00" y1="462.30" x2="375.00" y2="462.30" stroke="#383838" stroke-width="1.0" />
<line x1="364.00" y1="511.00" x2="375.00" y2="511.00" stroke="#383838" stroke-width="1.0" />
<line x1="403.50" y1="476.70" x2="403.50" y2="504.50" stroke="#383838" stroke-width="1.0" />
<line x1="398.00" y1="476.70" x2="409.00" y2="476.70" stroke="#383838" stroke-width="1.0" />
<line x1="398.00" y1="504.50" x2="409.00" y2="504.50" stroke="#383838" stroke-width="1.0" />
<text x="271.40" y="558.22" font-size="10.4" text-anchor="end" font-weight="normal" font-style="normal" fill="#222" >0</text>
<text x="271.40" y="528.88" font-size="10.4" text-anchor="end" font-weight="normal" font-style="normal" fill="#222" >3</text>
<text x="271.40" y="499.54" font-size="10.4" text-anchor="end" font-weight="normal" font-style="normal" fill="#222" >6</text>
<text x="271.40" y="470.20" font-size="10.4" text-anchor="end" font-weight="normal" font-style="normal" fill="#222" >9</text>
<text x="271.40" y="440.86" font-size="10.4" text-anchor="end" font-weight="normal" font-style="normal" fill="#222" >12</text>
<text x="271.40" y="411.52" font-size="10.4" text-anchor="end" font-weight="normal" font-style="normal" fill="#222" >15</text>
<text x="302.10" y="572.24" font-size="11" text-anchor="middle" font-weight="normal" font-style="normal" fill="#222" >Hm</text>
<text x="336.20" y="572.24" font-size="11" text-anchor="middle" font-weight="normal" font-style="normal" fill="#222" >DIP</text>
<text x="369.50" y="572.24" font-size="11" text-anchor="middle" font-weight="normal" font-style="normal" fill="#222" >Hm</text>
<text x="403.40" y="572.24" font-size="11" text-anchor="middle" font-weight="normal" font-style="normal" fill="#222" >DIP</text>
<line x1="301.30" y1="517.90" x2="335.70" y2="517.90" stroke="#111" stroke-width="1.4" />
<text x="319.00" y="520.28" font-size="13" text-anchor="middle" font-weight="bold" font-style="normal" fill="#111" >*</text>
<polyline points="299.4,452.2 335.3,452.2" stroke="#111" stroke-width="1.4" fill="none"/>
<polyline points="371.3,452.2 407.6,452.2" stroke="#111" stroke-width="1.4" fill="none"/>
<polyline points="315.0,452.2 315.0,443.3 389.6,443.3 389.6,452.2" stroke="#111" stroke-width="1.4" fill="none"/>
<text x="351.70" y="445.68" font-size="13" text-anchor="middle" font-weight="bold" font-style="normal" fill="#111" >*</text>
<rect x="284.40" y="398.10" width="7.20" height="7.20" fill="#92bdf3" stroke="#3d5a80" stroke-width="0.9" />
<text x="303.30" y="405.92" font-size="11.8" text-anchor="start" font-weight="normal" font-style="normal" fill="#222" >A7436</text>
<rect x="354.80" y="398.10" width="7.20" height="7.20" fill="#f9bd84" stroke="#7a5430" stroke-width="0.9" />
<text x="375.00" y="405.92" font-size="11.8" text-anchor="start" font-weight="normal" font-style="normal" fill="#222" >33277</text>
<text x="351.70" y="386.39" font-size="14.5" text-anchor="middle" font-weight="bold" font-style="normal" fill="#111" >anti-IhtB</text>
<text transform="translate(253.80,480.40) rotate(-90)" font-size="11.9" text-anchor="middle" fill="#222" >Relative <tspan font-weight="bold">IhtB</tspan> amount</text>
<line x1="487.90" y1="505.45" x2="634.50" y2="505.45" stroke="#f2f2f2" stroke-width="1" />
<line x1="487.90" y1="457.10" x2="634.50" y2="457.10" stroke="#f2f2f2" stroke-width="1" />
<line x1="487.90" y1="408.75" x2="634.50" y2="408.75" stroke="#f2f2f2" stroke-width="1" />
<line x1="487.90" y1="529.62" x2="634.50" y2="529.62" stroke="#f2f2f2" stroke-width="1" />
<line x1="487.90" y1="481.27" x2="634.50" y2="481.27" stroke="#f2f2f2" stroke-width="1" />
<line x1="487.90" y1="432.92" x2="634.50" y2="432.92" stroke="#f2f2f2" stroke-width="1" />
<rect x="499.30" y="505.50" width="22.40" height="48.30" fill="#92bdf3" stroke="#3d5a80" stroke-width="1.0" />
<rect x="533.70" y="472.10" width="22.10" height="81.70" fill="#92bdf3" stroke="#3d5a80" stroke-width="1.0" />
<rect x="567.00" y="477.70" width="22.50" height="76.10" fill="#f9bd84" stroke="#7a5430" stroke-width="1.0" />
<rect x="601.10" y="485.80" width="21.80" height="68.00" fill="#f9bd84" stroke="#7a5430" stroke-width="1.0" />
<line x1="487.90" y1="505.50" x2="634.50" y2="505.50" stroke="#666" stroke-width="0.8" stroke-dasharray="1.4 1.6"/>
<line x1="487.90" y1="408.75" x2="487.90" y2="553.80" stroke="#4a4a4a" stroke-width="1.0" />
<line x1="482.90" y1="553.80" x2="487.90" y2="553.80" stroke="#4a4a4a" stroke-width="1.0" />
<line x1="482.90" y1="505.45" x2="487.90" y2="505.45" stroke="#4a4a4a" stroke-width="1.0" />
<line x1="482.90" y1="457.10" x2="487.90" y2="457.10" stroke="#4a4a4a" stroke-width="1.0" />
<line x1="482.90" y1="408.75" x2="487.90" y2="408.75" stroke="#4a4a4a" stroke-width="1.0" />
<line x1="484.90" y1="529.62" x2="487.90" y2="529.62" stroke="#4a4a4a" stroke-width="1.0" />
<line x1="484.90" y1="481.27" x2="487.90" y2="481.27" stroke="#4a4a4a" stroke-width="1.0" />
<line x1="484.90" y1="432.92" x2="487.90" y2="432.92" stroke="#4a4a4a" stroke-width="1.0" />
<line x1="482.90" y1="553.80" x2="634.50" y2="553.80" stroke="#4a4a4a" stroke-width="1.0" />
<line x1="510.50" y1="553.80" x2="510.50" y2="558.80" stroke="#4a4a4a" stroke-width="1.0" />
<line x1="544.70" y1="553.80" x2="544.70" y2="558.80" stroke="#4a4a4a" stroke-width="1.0" />
<line x1="578.30" y1="553.80" x2="578.30" y2="558.80" stroke="#4a4a4a" stroke-width="1.0" />
<line x1="612.00" y1="553.80" x2="612.00" y2="558.80" stroke="#4a4a4a" stroke-width="1.0" />
<line x1="544.50" y1="445.60" x2="544.50" y2="498.90" stroke="#383838" stroke-width="1.0" />
<line x1="539.00" y1="445.60" x2="550.00" y2="445.60" stroke="#383838" stroke-width="1.0" />
<line x1="539.00" y1="498.90" x2="550.00" y2="498.90" stroke="#383838" stroke-width="1.0" />
<line x1="578.50" y1="461.30" x2="578.50" y2="493.00" stroke="#383838" stroke-width="1.0" />
<line x1="573.00" y1="461.30" x2="584.00" y2="461.30" stroke="#383838" stroke-width="1.0" />
<line x1="573.00" y1="493.00" x2="584.00" y2="493.00" stroke="#383838" stroke-width="1.0" />
<line x1="612.50" y1="472.10" x2="612.50" y2="498.90" stroke="#383838" stroke-width="1.0" />
<line x1="607.00" y1="472.10" x2="618.00" y2="472.10" stroke="#383838" stroke-width="1.0" />
<line x1="607.00" y1="498.90" x2="618.00" y2="498.90" stroke="#383838" stroke-width="1.0" />
<text x="479.90" y="557.52" font-size="10.4" text-anchor="end" font-weight="normal" font-style="normal" fill="#222" >0</text>
<text x="479.90" y="509.17" font-size="10.4" text-anchor="end" font-weight="normal" font-style="normal" fill="#222" >1</text>
<text x="479.90" y="460.82" font-size="10.4" text-anchor="end" font-weight="normal" font-style="normal" fill="#222" >2</text>
<text x="479.90" y="412.47" font-size="10.4" text-anchor="end" font-weight="normal" font-style="normal" fill="#222" >3</text>
<text x="510.50" y="571.34" font-size="11" text-anchor="middle" font-weight="normal" font-style="normal" fill="#222" >Hm</text>
<text x="544.70" y="571.34" font-size="11" text-anchor="middle" font-weight="normal" font-style="normal" fill="#222" >DIP</text>
<text x="578.30" y="571.34" font-size="11" text-anchor="middle" font-weight="normal" font-style="normal" fill="#222" >Hm</text>
<text x="612.00" y="571.34" font-size="11" text-anchor="middle" font-weight="normal" font-style="normal" fill="#222" >DIP</text>
<rect x="493.80" y="398.10" width="7.20" height="7.20" fill="#92bdf3" stroke="#3d5a80" stroke-width="0.9" />
<text x="512.70" y="405.92" font-size="11.8" text-anchor="start" font-weight="normal" font-style="normal" fill="#222" >A7436</text>
<rect x="564.80" y="398.10" width="7.20" height="7.20" fill="#f9bd84" stroke="#7a5430" stroke-width="0.9" />
<text x="585.00" y="405.92" font-size="11.8" text-anchor="start" font-weight="normal" font-style="normal" fill="#222" >33277</text>
<text x="558.50" y="386.19" font-size="14.5" text-anchor="middle" font-weight="bold" font-style="normal" fill="#111" >anti-RgpB</text>
<text transform="translate(464.80,480.50) rotate(-90)" font-size="11.9" text-anchor="middle" fill="#222" >Relative <tspan font-weight="bold">RgpB</tspan> amount</text>
<line x1="76.80" y1="821.46" x2="165.40" y2="821.46" stroke="#f2f2f2" stroke-width="1" />
<line x1="76.80" y1="791.12" x2="165.40" y2="791.12" stroke="#f2f2f2" stroke-width="1" />
<line x1="76.80" y1="760.78" x2="165.40" y2="760.78" stroke="#f2f2f2" stroke-width="1" />
<line x1="76.80" y1="730.44" x2="165.40" y2="730.44" stroke="#f2f2f2" stroke-width="1" />
<line x1="76.80" y1="700.10" x2="165.40" y2="700.10" stroke="#f2f2f2" stroke-width="1" />
<line x1="76.80" y1="836.63" x2="165.40" y2="836.63" stroke="#f2f2f2" stroke-width="1" />
<line x1="76.80" y1="806.29" x2="165.40" y2="806.29" stroke="#f2f2f2" stroke-width="1" />
<line x1="76.80" y1="775.95" x2="165.40" y2="775.95" stroke="#f2f2f2" stroke-width="1" />
<line x1="76.80" y1="745.61" x2="165.40" y2="745.61" stroke="#f2f2f2" stroke-width="1" />
<line x1="76.80" y1="715.27" x2="165.40" y2="715.27" stroke="#f2f2f2" stroke-width="1" />
<rect x="89.60" y="821.60" width="25.10" height="30.20" fill="#92bdf3" stroke="#3d5a80" stroke-width="1.0" />
<rect x="127.60" y="759.90" width="24.80" height="91.90" fill="#f9bd84" stroke="#7a5430" stroke-width="1.0" />
<line x1="76.80" y1="821.60" x2="165.40" y2="821.60" stroke="#666" stroke-width="0.8" stroke-dasharray="1.4 1.6"/>
<line x1="76.80" y1="700.10" x2="76.80" y2="851.80" stroke="#484848" stroke-width="1.0" />
<line x1="71.80" y1="851.80" x2="76.80" y2="851.80" stroke="#484848" stroke-width="1.0" />
<line x1="71.80" y1="821.46" x2="76.80" y2="821.46" stroke="#484848" stroke-width="1.0" />
<line x1="71.80" y1="791.12" x2="76.80" y2="791.12" stroke="#484848" stroke-width="1.0" />
<line x1="71.80" y1="760.78" x2="76.80" y2="760.78" stroke="#484848" stroke-width="1.0" />
<line x1="71.80" y1="730.44" x2="76.80" y2="730.44" stroke="#484848" stroke-width="1.0" />
<line x1="71.80" y1="700.10" x2="76.80" y2="700.10" stroke="#484848" stroke-width="1.0" />
<line x1="73.80" y1="836.63" x2="76.80" y2="836.63" stroke="#484848" stroke-width="1.0" />
<line x1="73.80" y1="806.29" x2="76.80" y2="806.29" stroke="#484848" stroke-width="1.0" />
<line x1="73.80" y1="775.95" x2="76.80" y2="775.95" stroke="#484848" stroke-width="1.0" />
<line x1="73.80" y1="745.61" x2="76.80" y2="745.61" stroke="#484848" stroke-width="1.0" />
<line x1="73.80" y1="715.27" x2="76.80" y2="715.27" stroke="#484848" stroke-width="1.0" />
<line x1="71.80" y1="851.80" x2="165.40" y2="851.80" stroke="#484848" stroke-width="1.0" />
<line x1="101.90" y1="851.80" x2="101.90" y2="856.80" stroke="#484848" stroke-width="1.0" />
<line x1="139.60" y1="851.80" x2="139.60" y2="856.80" stroke="#484848" stroke-width="1.0" />
<line x1="140.50" y1="743.60" x2="140.50" y2="774.90" stroke="#383838" stroke-width="1.0" />
<line x1="134.50" y1="743.60" x2="146.50" y2="743.60" stroke="#383838" stroke-width="1.0" />
<line x1="134.50" y1="774.90" x2="146.50" y2="774.90" stroke="#383838" stroke-width="1.0" />
<text x="69.80" y="855.59" font-size="10.6" text-anchor="end" font-weight="normal" font-style="normal" fill="#222" >0</text>
<text x="69.80" y="825.25" font-size="10.6" text-anchor="end" font-weight="normal" font-style="normal" fill="#222" >1</text>
<text x="69.80" y="794.91" font-size="10.6" text-anchor="end" font-weight="normal" font-style="normal" fill="#222" >2</text>
<text x="69.80" y="764.57" font-size="10.6" text-anchor="end" font-weight="normal" font-style="normal" fill="#222" >3</text>
<text x="69.80" y="734.23" font-size="10.6" text-anchor="end" font-weight="normal" font-style="normal" fill="#222" >4</text>
<text x="69.80" y="703.89" font-size="10.6" text-anchor="end" font-weight="normal" font-style="normal" fill="#222" >5</text>
<text x="101.90" y="870.17" font-size="10.8" text-anchor="middle" font-weight="normal" font-style="normal" fill="#222" >A7436</text>
<text x="139.60" y="870.17" font-size="10.8" text-anchor="middle" font-weight="normal" font-style="normal" fill="#222" >33277</text>
<line x1="102.70" y1="726.00" x2="139.90" y2="726.00" stroke="#111" stroke-width="1.4" />
<text x="120.50" y="728.00" font-size="12.5" text-anchor="middle" font-weight="bold" font-style="normal" fill="#111" >****</text>
<text x="120.50" y="683.62" font-size="14.3" text-anchor="middle" font-weight="bold" font-style="normal" fill="#111" >anti-HmuY</text>
<text transform="translate(56.30,775.50) rotate(-90)" font-size="11.0" text-anchor="middle" fill="#222" >Relative <tspan font-weight="bold">HmuY</tspan> amount</text>
<line x1="285.30" y1="776.40" x2="373.40" y2="776.40" stroke="#f2f2f2" stroke-width="1" />
<line x1="285.30" y1="702.50" x2="373.40" y2="702.50" stroke="#f2f2f2" stroke-width="1" />
<line x1="285.30" y1="813.35" x2="373.40" y2="813.35" stroke="#f2f2f2" stroke-width="1" />
<line x1="285.30" y1="739.45" x2="373.40" y2="739.45" stroke="#f2f2f2" stroke-width="1" />
<rect x="298.00" y="776.40" width="24.80" height="73.90" fill="#92bdf3" stroke="#3d5a80" stroke-width="1.0" />
<rect x="335.50" y="759.90" width="25.00" height="90.40" fill="#f9bd84" stroke="#7a5430" stroke-width="1.0" />
<line x1="285.30" y1="776.40" x2="374.00" y2="776.40" stroke="#666" stroke-width="0.8" stroke-dasharray="1.4 1.6"/>
<line x1="285.30" y1="702.50" x2="285.30" y2="850.30" stroke="#484848" stroke-width="1.0" />
<line x1="280.30" y1="850.30" x2="285.30" y2="850.30" stroke="#484848" stroke-width="1.0" />
<line x1="280.30" y1="776.40" x2="285.30" y2="776.40" stroke="#484848" stroke-width="1.0" />
<line x1="280.30" y1="702.50" x2="285.30" y2="702.50" stroke="#484848" stroke-width="1.0" />
<line x1="282.30" y1="813.35" x2="285.30" y2="813.35" stroke="#484848" stroke-width="1.0" />
<line x1="282.30" y1="739.45" x2="285.30" y2="739.45" stroke="#484848" stroke-width="1.0" />
<line x1="280.30" y1="850.30" x2="373.40" y2="850.30" stroke="#484848" stroke-width="1.0" />
<line x1="310.40" y1="850.30" x2="310.40" y2="855.30" stroke="#484848" stroke-width="1.0" />
<line x1="348.00" y1="850.30" x2="348.00" y2="855.30" stroke="#484848" stroke-width="1.0" />
<line x1="348.50" y1="736.40" x2="348.50" y2="783.30" stroke="#383838" stroke-width="1.0" />
<line x1="342.50" y1="736.40" x2="354.50" y2="736.40" stroke="#383838" stroke-width="1.0" />
<line x1="342.50" y1="783.30" x2="354.50" y2="783.30" stroke="#383838" stroke-width="1.0" />
<text x="278.30" y="854.17" font-size="10.8" text-anchor="end" font-weight="normal" font-style="normal" fill="#222" >0</text>
<text x="278.30" y="780.27" font-size="10.8" text-anchor="end" font-weight="normal" font-style="normal" fill="#222" >1</text>
<text x="278.30" y="706.37" font-size="10.8" text-anchor="end" font-weight="normal" font-style="normal" fill="#222" >2</text>
<text x="310.40" y="868.07" font-size="10.8" text-anchor="middle" font-weight="normal" font-style="normal" fill="#222" >A7436</text>
<text x="348.00" y="868.07" font-size="10.8" text-anchor="middle" font-weight="normal" font-style="normal" fill="#222" >33277</text>
<text x="320.80" y="685.12" font-size="14.3" text-anchor="middle" font-weight="bold" font-style="normal" fill="#111" >anti-IhtB</text>
<text transform="translate(264.00,775.90) rotate(-90)" font-size="11.0" text-anchor="middle" fill="#222" >Relative <tspan font-weight="bold">IhtB</tspan> amount</text>
<line x1="493.20" y1="772.50" x2="581.70" y2="772.50" stroke="#f2f2f2" stroke-width="1" />
<line x1="493.20" y1="698.50" x2="581.70" y2="698.50" stroke="#f2f2f2" stroke-width="1" />
<line x1="493.20" y1="809.50" x2="581.70" y2="809.50" stroke="#f2f2f2" stroke-width="1" />
<line x1="493.20" y1="735.50" x2="581.70" y2="735.50" stroke="#f2f2f2" stroke-width="1" />
<rect x="506.20" y="772.30" width="24.80" height="74.20" fill="#92bdf3" stroke="#3d5a80" stroke-width="1.0" />
<rect x="544.00" y="756.10" width="24.50" height="90.40" fill="#f9bd84" stroke="#7a5430" stroke-width="1.0" />
<line x1="493.20" y1="772.30" x2="581.70" y2="772.30" stroke="#666" stroke-width="0.8" stroke-dasharray="1.4 1.6"/>
<line x1="493.20" y1="698.50" x2="493.20" y2="846.50" stroke="#484848" stroke-width="1.0" />
<line x1="488.20" y1="846.50" x2="493.20" y2="846.50" stroke="#484848" stroke-width="1.0" />
<line x1="488.20" y1="772.50" x2="493.20" y2="772.50" stroke="#484848" stroke-width="1.0" />
<line x1="488.20" y1="698.50" x2="493.20" y2="698.50" stroke="#484848" stroke-width="1.0" />
<line x1="490.20" y1="809.50" x2="493.20" y2="809.50" stroke="#484848" stroke-width="1.0" />
<line x1="490.20" y1="735.50" x2="493.20" y2="735.50" stroke="#484848" stroke-width="1.0" />
<line x1="488.20" y1="846.50" x2="581.70" y2="846.50" stroke="#484848" stroke-width="1.0" />
<line x1="518.60" y1="846.50" x2="518.60" y2="851.50" stroke="#484848" stroke-width="1.0" />
<line x1="556.30" y1="846.50" x2="556.30" y2="851.50" stroke="#484848" stroke-width="1.0" />
<line x1="556.50" y1="731.00" x2="556.50" y2="780.20" stroke="#383838" stroke-width="1.0" />
<line x1="550.50" y1="731.00" x2="562.50" y2="731.00" stroke="#383838" stroke-width="1.0" />
<line x1="550.50" y1="780.20" x2="562.50" y2="780.20" stroke="#383838" stroke-width="1.0" />
<text x="486.20" y="850.37" font-size="10.8" text-anchor="end" font-weight="normal" font-style="normal" fill="#222" >0</text>
<text x="486.20" y="776.37" font-size="10.8" text-anchor="end" font-weight="normal" font-style="normal" fill="#222" >1</text>
<text x="486.20" y="702.37" font-size="10.8" text-anchor="end" font-weight="normal" font-style="normal" fill="#222" >2</text>
<text x="518.60" y="864.27" font-size="10.8" text-anchor="middle" font-weight="normal" font-style="normal" fill="#222" >A7436</text>
<text x="556.30" y="864.27" font-size="10.8" text-anchor="middle" font-weight="normal" font-style="normal" fill="#222" >33277</text>
<text x="534.70" y="685.12" font-size="14.3" text-anchor="middle" font-weight="bold" font-style="normal" fill="#111" >anti-RgpB</text>
<text transform="translate(472.00,771.60) rotate(-90)" font-size="11.0" text-anchor="middle" fill="#222" >Relative <tspan font-weight="bold">RgpB</tspan> amount</text>
<text x="40.90" y="575.37" font-size="12.2" text-anchor="start" font-weight="bold" font-style="normal" fill="#111" >kDa</text>
<rect x="78.20" y="581.10" width="136.50" height="59.70" fill="#fbfbfb" stroke="#8a8a8a" stroke-width="1.0" />
<text x="61.80" y="595.90" font-size="12" text-anchor="end" font-weight="bold" font-style="normal" fill="#111" >25</text>
<line x1="64.20" y1="591.60" x2="73.80" y2="591.60" stroke="#111" stroke-width="1.7" />
<text x="61.80" y="633.20" font-size="12" text-anchor="end" font-weight="bold" font-style="normal" fill="#111" >15</text>
<line x1="64.20" y1="628.90" x2="73.80" y2="628.90" stroke="#111" stroke-width="1.7" />
<rect x="86.10" y="608.00" width="21.00" height="2.80" rx="1.40" fill="#000" opacity="0.28" filter="url(#b10)"/>
<rect x="121.00" y="597.00" width="20.00" height="7.00" rx="3.50" fill="#000" opacity="0.1" filter="url(#b25)"/>
<rect x="117.50" y="605.20" width="27.00" height="8.00" rx="3.00" fill="#000" opacity="0.97" filter="url(#b11)"/>
<rect x="151.90" y="606.65" width="23.00" height="5.50" rx="2.50" fill="#000" opacity="0.62" filter="url(#b11)"/>
<rect x="186.80" y="597.00" width="20.00" height="7.00" rx="3.50" fill="#000" opacity="0.08" filter="url(#b25)"/>
<rect x="184.30" y="604.95" width="25.00" height="8.50" rx="3.00" fill="#000" opacity="0.97" filter="url(#b11)"/>
<text x="242.50" y="577.37" font-size="12.2" text-anchor="start" font-weight="bold" font-style="normal" fill="#111" >kDa</text>
<rect x="278.70" y="581.10" width="140.10" height="60.60" fill="#fbfbfb" stroke="#555" stroke-width="1.0" />
<text x="263.50" y="599.40" font-size="12" text-anchor="end" font-weight="bold" font-style="normal" fill="#111" >35</text>
<line x1="265.20" y1="595.10" x2="276.30" y2="595.10" stroke="#111" stroke-width="1.7" />
<text x="263.50" y="630.20" font-size="12" text-anchor="end" font-weight="bold" font-style="normal" fill="#111" >25</text>
<line x1="265.20" y1="625.90" x2="276.30" y2="625.90" stroke="#111" stroke-width="1.7" />
<path d="M287.70,610.75 L287.70,604.25 Q299.70,601.25 311.70,604.25 L311.70,610.75 Q299.70,607.75 287.70,610.75 Z" fill="#000" opacity="0.55" filter="url(#b12)"/>
<path d="M322.00,610.20 L322.00,604.20 Q334.50,602.20 347.00,604.20 L347.00,610.20 Q334.50,608.20 322.00,610.20 Z" fill="#000" opacity="0.68" filter="url(#b12)"/>
<rect x="360.00" y="593.00" width="20.00" height="6.00" rx="3.00" fill="#000" opacity="0.08" filter="url(#b25)"/>
<path d="M357.50,609.50 L357.50,599.50 Q370.00,593.25 382.50,600.00 L382.50,610.00 Q370.00,603.25 357.50,609.50 Z" fill="#000" opacity="0.98" filter="url(#b11)"/>
<rect x="391.80" y="591.00" width="20.00" height="6.00" rx="3.00" fill="#000" opacity="0.08" filter="url(#b25)"/>
<path d="M389.80,608.50 L389.80,598.50 Q401.80,591.75 413.80,598.00 L413.80,608.00 Q401.80,601.75 389.80,608.50 Z" fill="#000" opacity="0.98" filter="url(#b11)"/>
<text x="455.00" y="572.17" font-size="12.2" text-anchor="start" font-weight="bold" font-style="normal" fill="#111" >kDa</text>
<rect x="490.50" y="573.00" width="136.50" height="74.10" fill="#fbfbfb" stroke="#888" stroke-width="1.0" />
<text x="476.30" y="584.10" font-size="12" text-anchor="end" font-weight="bold" font-style="normal" fill="#111" >130</text>
<line x1="478.00" y1="579.80" x2="489.00" y2="579.80" stroke="#111" stroke-width="1.7" />
<text x="476.30" y="597.20" font-size="12" text-anchor="end" font-weight="bold" font-style="normal" fill="#111" >100</text>
<line x1="478.00" y1="592.90" x2="489.00" y2="592.90" stroke="#111" stroke-width="1.7" />
<text x="476.30" y="608.40" font-size="12" text-anchor="end" font-weight="bold" font-style="normal" fill="#111" >70</text>
<line x1="478.00" y1="604.10" x2="489.00" y2="604.10" stroke="#111" stroke-width="1.7" />
<text x="476.30" y="625.20" font-size="12" text-anchor="end" font-weight="bold" font-style="normal" fill="#111" >55</text>
<line x1="478.00" y1="620.90" x2="489.00" y2="620.90" stroke="#111" stroke-width="1.7" />
<text x="476.30" y="645.80" font-size="12" text-anchor="end" font-weight="bold" font-style="normal" fill="#111" >40</text>
<line x1="478.00" y1="641.50" x2="489.00" y2="641.50" stroke="#111" stroke-width="1.7" />
<rect x="499.00" y="589.80" width="22.00" height="16.00" rx="4.00" fill="#000" opacity="0.74" filter="url(#b22)"/>
<rect x="501.50" y="591.00" width="9.00" height="10.00" rx="4.00" fill="#000" opacity="0.25" filter="url(#b20)"/>
<rect x="532.50" y="589.30" width="23.00" height="16.00" rx="4.00" fill="#000" opacity="0.74" filter="url(#b22)"/>
<rect x="567.40" y="579.00" width="22.00" height="12.00" rx="4.00" fill="#000" opacity="0.5" filter="url(#b20)"/>
<rect x="601.70" y="580.50" width="21.00" height="11.00" rx="4.00" fill="#000" opacity="0.4" filter="url(#b20)"/>
<rect x="499.70" y="629.05" width="21.00" height="3.50" rx="1.50" fill="#000" opacity="0.45" filter="url(#b10)"/>
<rect x="533.00" y="628.30" width="22.00" height="4.00" rx="1.50" fill="#000" opacity="0.52" filter="url(#b10)"/>
<rect x="567.90" y="629.70" width="21.00" height="3.00" rx="1.50" fill="#000" opacity="0.3" filter="url(#b10)"/>
<rect x="601.20" y="629.00" width="22.00" height="4.00" rx="1.50" fill="#000" opacity="0.68" filter="url(#b10)"/>
<polyline points="631.2,581.4 636.2,581.4 636.2,598.6 631.2,598.6" stroke="#111" stroke-width="2.1" fill="none"/>
<text x="642.50" y="595.25" font-size="10.2" text-anchor="start" font-weight="normal" font-style="normal" fill="#222" >pro-RgpB</text>
<polygon points="631.0,630.8 639.8,626.2 639.8,635.4" fill="#111"/>
<text x="645.00" y="632.52" font-size="10.4" text-anchor="start" font-weight="normal" font-style="normal" fill="#222" >Rgp catalytic</text>
<text x="645.00" y="643.52" font-size="10.4" text-anchor="start" font-weight="normal" font-style="normal" fill="#222" >domain</text>
<text x="42.50" y="871.17" font-size="12.2" text-anchor="start" font-weight="bold" font-style="normal" fill="#111" >kDa</text>
<rect x="80.30" y="874.40" width="82.20" height="51.90" fill="#fbfbfb" stroke="#666" stroke-width="1.0" />
<text x="63.50" y="885.20" font-size="12" text-anchor="end" font-weight="bold" font-style="normal" fill="#111" >25</text>
<line x1="65.60" y1="880.90" x2="75.00" y2="880.90" stroke="#111" stroke-width="1.7" />
<text x="63.50" y="922.30" font-size="12" text-anchor="end" font-weight="bold" font-style="normal" fill="#111" >15</text>
<line x1="65.60" y1="918.00" x2="75.00" y2="918.00" stroke="#111" stroke-width="1.7" />
<rect x="87.45" y="894.50" width="25.50" height="3.60" rx="1.80" fill="#000" opacity="0.85" filter="url(#b9)"/>
<rect x="123.85" y="893.10" width="28.50" height="6.00" rx="3.00" fill="#000" opacity="0.99" filter="url(#b9)"/>
<rect x="90.20" y="885.30" width="20.00" height="2.20" rx="1.10" fill="#000" opacity="0.1" filter="url(#b10)"/>
<rect x="127.10" y="918.75" width="22.00" height="2.50" rx="1.25" fill="#000" opacity="0.12" filter="url(#b12)"/>
<text x="251.80" y="871.97" font-size="12.2" text-anchor="start" font-weight="bold" font-style="normal" fill="#111" >kDa</text>
<rect x="288.50" y="871.30" width="82.90" height="59.40" fill="#fbfbfb" stroke="#222" stroke-width="1.4" />
<text x="272.20" y="891.10" font-size="12" text-anchor="end" font-weight="bold" font-style="normal" fill="#111" >35</text>
<line x1="274.00" y1="886.80" x2="284.50" y2="886.80" stroke="#111" stroke-width="1.7" />
<text x="272.20" y="917.20" font-size="12" text-anchor="end" font-weight="bold" font-style="normal" fill="#111" >25</text>
<line x1="274.00" y1="912.90" x2="284.50" y2="912.90" stroke="#111" stroke-width="1.7" />
<path d="M296.00,898.80 L296.00,891.60 Q309.50,885.60 323.00,888.40 L323.00,895.60 Q309.50,892.80 296.00,898.80 Z" fill="#000" opacity="0.98" filter="url(#b10)"/>
<path d="M333.50,895.70 L333.50,888.50 Q350.00,881.20 366.50,887.90 L366.50,895.10 Q350.00,888.40 333.50,895.70 Z" fill="#000" opacity="0.98" filter="url(#b10)"/>
<rect x="297.80" y="915.00" width="23.00" height="4.00" rx="2.00" fill="#000" opacity="0.13" filter="url(#b18)"/>
<rect x="339.00" y="916.00" width="22.00" height="4.00" rx="2.00" fill="#000" opacity="0.05" filter="url(#b20)"/>
<text x="460.20" y="871.37" font-size="12.2" text-anchor="start" font-weight="bold" font-style="normal" fill="#111" >kDa</text>
<rect x="497.20" y="865.20" width="79.20" height="84.80" fill="#fbfbfb" stroke="#777" stroke-width="1.0" />
<text x="483.30" y="887.50" font-size="12" text-anchor="end" font-weight="bold" font-style="normal" fill="#111" >130</text>
<line x1="484.50" y1="883.20" x2="495.50" y2="883.20" stroke="#111" stroke-width="1.7" />
<text x="483.30" y="898.10" font-size="12" text-anchor="end" font-weight="bold" font-style="normal" fill="#111" >100</text>
<line x1="484.50" y1="893.80" x2="495.50" y2="893.80" stroke="#111" stroke-width="1.7" />
<text x="483.30" y="908.10" font-size="12" text-anchor="end" font-weight="bold" font-style="normal" fill="#111" >70</text>
<line x1="484.50" y1="903.80" x2="495.50" y2="903.80" stroke="#111" stroke-width="1.7" />
<text x="483.30" y="924.80" font-size="12" text-anchor="end" font-weight="bold" font-style="normal" fill="#111" >55</text>
<line x1="484.50" y1="920.50" x2="495.50" y2="920.50" stroke="#111" stroke-width="1.7" />
<text x="483.30" y="943.70" font-size="12" text-anchor="end" font-weight="bold" font-style="normal" fill="#111" >40</text>
<line x1="484.50" y1="939.40" x2="495.50" y2="939.40" stroke="#111" stroke-width="1.7" />
<rect x="504.00" y="892.00" width="25.00" height="13.00" rx="3.50" fill="#000" opacity="0.82" filter="url(#b16)"/>
<rect x="542.00" y="881.00" width="26.00" height="10.00" rx="3.50" fill="#000" opacity="0.8" filter="url(#b16)"/>
<rect x="503.70" y="928.65" width="25.00" height="3.50" rx="1.50" fill="#000" opacity="0.5" filter="url(#b10)"/>
<rect x="542.50" y="926.40" width="27.00" height="4.80" rx="2.00" fill="#000" opacity="0.88" filter="url(#b10)"/>
<polyline points="580.0,882.6 585.3,882.6 585.3,899.4 580.0,899.4" stroke="#111" stroke-width="2.2" fill="none"/>
<text x="591.80" y="896.95" font-size="10.2" text-anchor="start" font-weight="normal" font-style="normal" fill="#222" >pro-RgpB</text>
<polygon points="579.2,929.3 588.9,924.6 588.9,934.0" fill="#111"/>
<text x="594.30" y="920.72" font-size="10.4" text-anchor="start" font-weight="normal" font-style="normal" fill="#222" >Rgp catalytic</text>
<text x="594.30" y="931.92" font-size="10.4" text-anchor="start" font-weight="normal" font-style="normal" fill="#222" >domain</text>
</svg></body></html>
